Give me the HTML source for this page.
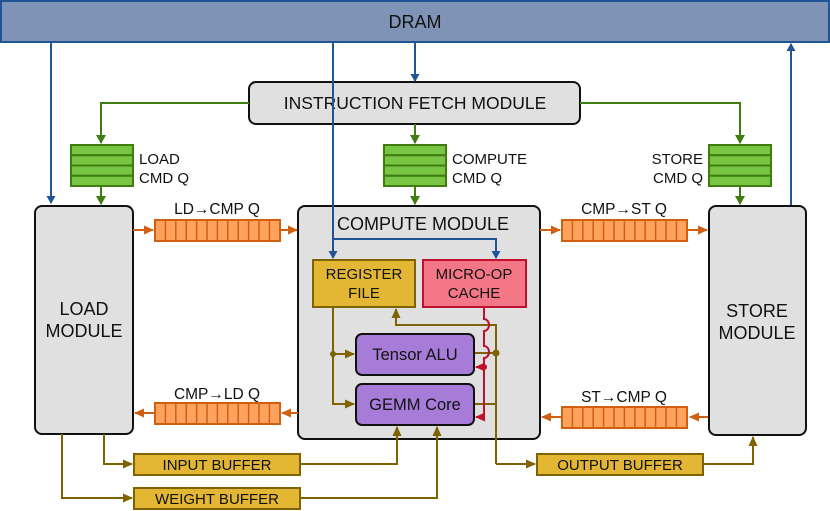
<!DOCTYPE html>
<html><head><meta charset="utf-8"><style>
html,body{margin:0;padding:0;background:#fff}
svg{display:block}
text{font-family:"Liberation Sans",sans-serif;fill:#111}
</style></head><body>
<svg width="830" height="511" viewBox="0 0 830 511" xmlns="http://www.w3.org/2000/svg">
<defs>
<marker id="ab" markerWidth="8" markerHeight="9" refX="7" refY="4.5" orient="auto" markerUnits="userSpaceOnUse"><path d="M0,0 L8,4.5 L0,9 z" fill="#1f5596"/></marker>
<marker id="ag" markerWidth="9" markerHeight="10" refX="8" refY="5" orient="auto" markerUnits="userSpaceOnUse"><path d="M0,0 L9,5 L0,10 z" fill="#3f7d10"/></marker>
<marker id="ao" markerWidth="10" markerHeight="9" refX="9" refY="4.5" orient="auto" markerUnits="userSpaceOnUse"><path d="M0,0 L10,4.5 L0,9 z" fill="#d0600f"/></marker>
<marker id="ay" markerWidth="10" markerHeight="9" refX="9" refY="4.5" orient="auto" markerUnits="userSpaceOnUse"><path d="M0,0 L10,4.5 L0,9 z" fill="#7f6300"/></marker>
<marker id="ar" markerWidth="10" markerHeight="9" refX="9" refY="4.5" orient="auto" markerUnits="userSpaceOnUse"><path d="M0,0 L10,4.5 L0,9 z" fill="#c0102f"/></marker>
</defs>

<rect x="1" y="1" width="828" height="41" fill="#7f93b6" stroke="#1f5596" stroke-width="2"/>
<text x="415" y="28" font-size="18" text-anchor="middle">DRAM</text>

<rect x="249" y="82" width="331" height="42" rx="7" fill="#e0e0e0" stroke="#111" stroke-width="2"/>
<text x="415" y="109" font-size="17.5" text-anchor="middle">INSTRUCTION FETCH MODULE</text>

<g stroke="#3f7d10" stroke-width="2" fill="none">
<polyline points="249,103 101,103 101,143" marker-end="url(#ag)"/>
<polyline points="580,103 740,103 740,143" marker-end="url(#ag)"/>
<line x1="415" y1="124" x2="415" y2="143" marker-end="url(#ag)"/>
<line x1="101" y1="186" x2="101" y2="204" marker-end="url(#ag)"/>
<line x1="415" y1="186" x2="415" y2="204" marker-end="url(#ag)"/>
<line x1="740" y1="186" x2="740" y2="204" marker-end="url(#ag)"/>
</g>
<g fill="#78c443" stroke="#3f7d10" stroke-width="2">
<rect x="71" y="145" width="62" height="10.25"/><rect x="71" y="155.25" width="62" height="10.25"/><rect x="71" y="165.5" width="62" height="10.25"/><rect x="71" y="175.75" width="62" height="10.25"/>
<rect x="384" y="145" width="62" height="10.25"/><rect x="384" y="155.25" width="62" height="10.25"/><rect x="384" y="165.5" width="62" height="10.25"/><rect x="384" y="175.75" width="62" height="10.25"/>
<rect x="709" y="145" width="62" height="10.25"/><rect x="709" y="155.25" width="62" height="10.25"/><rect x="709" y="165.5" width="62" height="10.25"/><rect x="709" y="175.75" width="62" height="10.25"/>
</g>
<text x="139" y="164" font-size="15">LOAD</text><text x="139" y="183" font-size="15">CMD Q</text>
<text x="452" y="164" font-size="15">COMPUTE</text><text x="452" y="183" font-size="15">CMD Q</text>
<text x="703" y="164" font-size="15" text-anchor="end">STORE</text><text x="703" y="183" font-size="15" text-anchor="end">CMD Q</text>

<rect x="35" y="206" width="98" height="228" rx="7" fill="#e0e0e0" stroke="#111" stroke-width="2"/>
<text x="84" y="315" font-size="18" text-anchor="middle">LOAD</text><text x="84" y="337" font-size="18" text-anchor="middle">MODULE</text>
<rect x="298" y="206" width="242" height="233" rx="7" fill="#e0e0e0" stroke="#111" stroke-width="2"/>
<text x="423" y="230" font-size="18" text-anchor="middle">COMPUTE MODULE</text>
<rect x="709" y="206" width="97" height="229" rx="7" fill="#e0e0e0" stroke="#111" stroke-width="2"/>
<text x="757" y="317" font-size="18" text-anchor="middle">STORE</text><text x="757" y="339" font-size="18" text-anchor="middle">MODULE</text>

<g stroke="#1f5596" stroke-width="2" fill="none">
<line x1="51" y1="42" x2="51" y2="203" marker-end="url(#ab)"/>
<line x1="415" y1="42" x2="415" y2="81" marker-end="url(#ab)"/>
<polyline points="333,42 333,239 333,258" marker-end="url(#ab)"/>
<polyline points="333,239 496,239 496,258" marker-end="url(#ab)"/>
<line x1="791" y1="205" x2="791" y2="44" marker-end="url(#ab)"/>
</g>

<g stroke="#d0600f" stroke-width="2" fill="none">
<line x1="133" y1="230" x2="153" y2="230" marker-end="url(#ao)"/>
<line x1="280" y1="230" x2="297" y2="230" marker-end="url(#ao)"/>
<line x1="540" y1="230" x2="560" y2="230" marker-end="url(#ao)"/>
<line x1="688" y1="230" x2="707" y2="230" marker-end="url(#ao)"/>
<line x1="298" y1="413" x2="282" y2="413" marker-end="url(#ao)"/>
<line x1="155" y1="413" x2="135" y2="413" marker-end="url(#ao)"/>
<line x1="708" y1="417" x2="690" y2="417" marker-end="url(#ao)"/>
<line x1="562" y1="417" x2="542" y2="417" marker-end="url(#ao)"/>
</g>
<g fill="#ffa25e" stroke="#d0600f" stroke-width="2">
<rect x="155" y="220" width="125" height="21"/>
<rect x="562" y="220" width="125" height="21"/>
<rect x="155" y="403" width="125" height="21"/>
<rect x="562" y="407" width="125" height="21"/>
</g>
<g stroke="#d0600f" stroke-width="1.5">
<path d="M165.4,220v21M175.8,220v21M186.2,220v21M196.6,220v21M207,220v21M217.4,220v21M227.8,220v21M238.2,220v21M248.6,220v21M259,220v21M269.4,220v21"/>
<path d="M572.4,220v21M582.8,220v21M593.2,220v21M603.6,220v21M614,220v21M624.4,220v21M634.8,220v21M645.2,220v21M655.6,220v21M666,220v21M676.4,220v21"/>
<path d="M165.4,403v21M175.8,403v21M186.2,403v21M196.6,403v21M207,403v21M217.4,403v21M227.8,403v21M238.2,403v21M248.6,403v21M259,403v21M269.4,403v21"/>
<path d="M572.4,407v21M582.8,407v21M593.2,407v21M603.6,407v21M614,407v21M624.4,407v21M634.8,407v21M645.2,407v21M655.6,407v21M666,407v21M676.4,407v21"/>
</g>
<text x="217" y="214" font-size="15.5" text-anchor="middle">LD→CMP Q</text>
<text x="624" y="214" font-size="15.5" text-anchor="middle">CMP→ST Q</text>
<text x="217" y="399" font-size="15.5" text-anchor="middle">CMP→LD Q</text>
<text x="624" y="402" font-size="15.5" text-anchor="middle">ST→CMP Q</text>

<rect x="313" y="260" width="102" height="47" fill="#e3b733" stroke="#7f6300" stroke-width="2"/>
<text x="364" y="279" font-size="15" text-anchor="middle">REGISTER</text><text x="364" y="298" font-size="15" text-anchor="middle">FILE</text>
<rect x="423" y="260" width="103" height="47" fill="#f47787" stroke="#c0102f" stroke-width="2"/>
<text x="474" y="279" font-size="15" text-anchor="middle">MICRO-OP</text><text x="474" y="298" font-size="15" text-anchor="middle">CACHE</text>

<g stroke="#7f6300" stroke-width="2" fill="none">
<polyline points="333,307 333,404 354,404" marker-end="url(#ay)"/>
<line x1="333" y1="354" x2="354" y2="354" marker-end="url(#ay)"/>
<polyline points="496,464 496,325 396,325 396,309" marker-end="url(#ay)"/>
<line x1="474" y1="353" x2="496" y2="353"/>
<line x1="474" y1="404" x2="496" y2="404"/>
<polyline points="496,464 535,464" marker-end="url(#ay)"/>
<polyline points="703,464 753,464 753,437" marker-end="url(#ay)"/>
<polyline points="104,434 104,464 132,464" marker-end="url(#ay)"/>
<polyline points="62,434 62,498 132,498" marker-end="url(#ay)"/>
<polyline points="300,464 397,464 397,427" marker-end="url(#ay)"/>
<polyline points="300,498 437,498 437,427" marker-end="url(#ay)"/>
</g>
<circle cx="333" cy="354" r="3" fill="#7f6300"/>
<circle cx="496" cy="353" r="3.5" fill="#7f6300"/>

<rect x="356" y="334" width="118" height="41" rx="6" fill="#a77bd8" stroke="#111" stroke-width="2"/>
<text x="415" y="360" font-size="16.5" text-anchor="middle">Tensor ALU</text>
<rect x="356" y="384" width="118" height="41" rx="6" fill="#a77bd8" stroke="#111" stroke-width="2"/>
<text x="415" y="410" font-size="16.5" text-anchor="middle">GEMM Core</text>

<g stroke="#c0102f" stroke-width="2" fill="none">
<path d="M484,307 V319 a5,6 0 0 1 0,12 V346 a5,6 0 0 1 0,12 V417"/>
<line x1="484" y1="367" x2="476" y2="367" marker-end="url(#ar)"/>
<line x1="484" y1="417" x2="476" y2="417" marker-end="url(#ar)"/>
</g>
<circle cx="484" cy="367" r="3" fill="#c0102f"/>

<rect x="134" y="454" width="166" height="21" fill="#e3b733" stroke="#7f6300" stroke-width="2"/>
<text x="217" y="470" font-size="15" text-anchor="middle">INPUT BUFFER</text>
<rect x="134" y="488" width="166" height="21" fill="#e3b733" stroke="#7f6300" stroke-width="2"/>
<text x="217" y="504" font-size="15" text-anchor="middle">WEIGHT BUFFER</text>
<rect x="537" y="454" width="166" height="21" fill="#e3b733" stroke="#7f6300" stroke-width="2"/>
<text x="620" y="470" font-size="15" text-anchor="middle">OUTPUT BUFFER</text>
</svg>
</body></html>
